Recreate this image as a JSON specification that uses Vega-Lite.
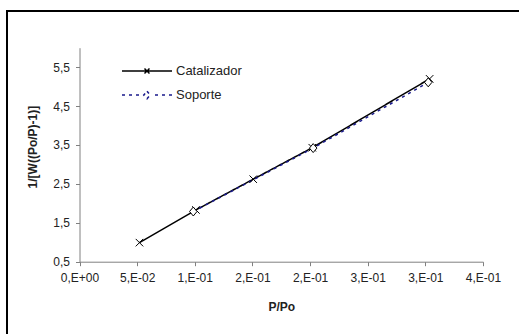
{
  "$schema": "https://vega.github.io/schema/vega-lite/v6.json",
  "width": 530,
  "height": 340,
  "autosize": "none",
  "padding": {"left": 7, "top": 11, "right": 0, "bottom": 0},
  "background": "white",
  "config": {
    "view": {"stroke": "black", "strokeWidth": 2},
    "font": "Liberation Sans",
    "axis": {
      "grid": false,
      "domainColor": "#808080",
      "domainWidth": 1,
      "tickColor": "#808080",
      "tickSize": 4,
      "tickWidth": 1,
      "labelFlush": false,
      "labelOverlap": false,
      "labelFont": "Liberation Sans",
      "labelFontSize": 12,
      "labelColor": "#222222",
      "titleFont": "Liberation Sans",
      "titleFontSize": 12,
      "titleFontWeight": "bold",
      "titleColor": "#222222"
    },
    "legend": {
      "orient": "none",
      "legendX": 114,
      "legendY": 50,
      "title": null,
      "padding": 0,
      "clipHeight": 20,
      "rowPadding": 4,
      "symbolSize": 2500,
      "symbolStrokeWidth": 1.5,
      "labelFont": "Liberation Sans",
      "labelFontSize": 13,
      "labelColor": "#222222",
      "labelOffset": 3
    }
  },
  "data": {
    "values": [
      {"serie": "Catalizador", "p": 0.052, "v": 0.99},
      {"serie": "Catalizador", "p": 0.101, "v": 1.83},
      {"serie": "Catalizador", "p": 0.1507, "v": 2.62},
      {"serie": "Catalizador", "p": 0.2019, "v": 3.43},
      {"serie": "Catalizador", "p": 0.3037, "v": 5.2},
      {"serie": "Soporte", "p": 0.0987, "v": 1.79},
      {"serie": "Soporte", "p": 0.2027, "v": 3.42},
      {"serie": "Soporte", "p": 0.3025, "v": 5.11}
    ]
  },
  "encoding": {
    "x": {
      "field": "p",
      "type": "quantitative",
      "scale": {"domain": [0, 0.35], "range": [72.5, 476], "nice": false, "zero": false},
      "axis": {
        "orient": "bottom",
        "offset": -89.3,
        "values": [0, 0.05, 0.1, 0.15, 0.2, 0.25, 0.3, 0.35],
        "labelExpr": "['0,E+00','5,E-02','1,E-01','2,E-01','2,E-01','3,E-01','3,E-01','4,E-01'][round(datum.value * 20)]",
        "labelPadding": 7,
        "title": "P/Po",
        "titleY": 45,
        "titleBaseline": "middle"
      }
    },
    "y": {
      "field": "v",
      "type": "quantitative",
      "scale": {"domain": [0.5, 6], "range": [250.7, 36.7], "nice": false, "zero": false},
      "axis": {
        "orient": "left",
        "offset": -72.5,
        "values": [0.5, 1.5, 2.5, 3.5, 4.5, 5.5],
        "labelExpr": "replace(format(datum.value, '.1f'), '.', ',')",
        "labelPadding": 6,
        "title": "1/[W((Po/P)-1)]",
        "titleX": -47.5,
        "titleY": 135.6,
        "titleAngle": -90,
        "titleAlign": "center",
        "titleBaseline": "middle"
      }
    }
  },
  "layer": [
    {
      "mark": {"type": "line", "strokeWidth": 1.5},
      "encoding": {
        "order": {"field": "p", "type": "quantitative"},
        "color": {
          "field": "serie",
          "type": "nominal",
          "scale": {"range": ["#000000", "#1a1a8c"]},
          "legend": {
            "encode": {
              "symbols": {
                "update": {
                  "shape": {"signal": "datum.value === 'Catalizador' ? 'M-1,0H1M-0.1,-0.1L0.1,0.1M-0.1,0.1L0.1,-0.1' : 'M-1,0H-0.88M-0.72,0H-0.6M-0.44,0H-0.32M0.32,0H0.44M0.6,0H0.72M0.88,0H1M0,-0.15L0.13,0L0,0.15L-0.13,0Z'"},
                  "strokeDash": {"value": []},
                  "fill": {"value": "white"}
                }
              }
            }
          }
        },
        "strokeDash": {
          "field": "serie",
          "type": "nominal",
          "scale": {"range": [[1, 0], [3, 4]]},
          "legend": {
            "encode": {
              "symbols": {
                "update": {
                  "shape": {"signal": "datum.value === 'Catalizador' ? 'M-1,0H1M-0.1,-0.1L0.1,0.1M-0.1,0.1L0.1,-0.1' : 'M-1,0H-0.88M-0.72,0H-0.6M-0.44,0H-0.32M0.32,0H0.44M0.6,0H0.72M0.88,0H1M0,-0.15L0.13,0L0,0.15L-0.13,0Z'"},
                  "strokeDash": {"value": []},
                  "fill": {"value": "white"}
                }
              }
            }
          }
        }
      }
    },
    {
      "mark": {"type": "point", "filled": false, "fill": "white", "stroke": "black", "strokeWidth": 1, "opacity": 1, "size": 56},
      "encoding": {
        "shape": {
          "field": "serie",
          "type": "nominal",
          "scale": {
            "domain": ["Catalizador", "Soporte"],
            "range": ["M-1,-1L1,1M-1,1L1,-1", "M0,-1.2L1,0L0,1.2L-1,0Z"]
          },
          "legend": null
        }
      }
    }
  ]
}
